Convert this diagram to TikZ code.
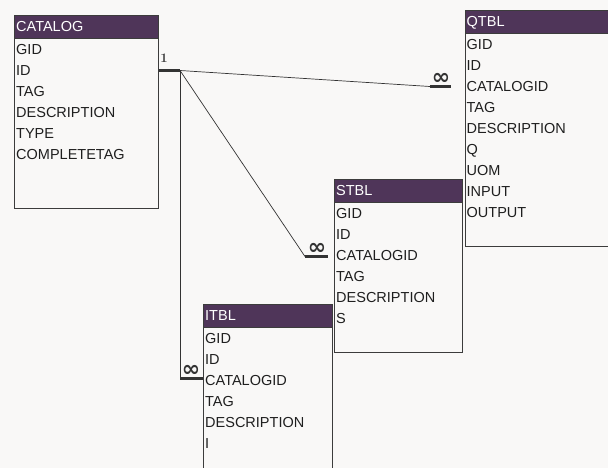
\documentclass[tikz,border=0pt]{standalone}
\usepackage{fontspec}
\newfontfamily\tblfont{Liberation Sans}
\newfontfamily\markfont{DejaVu Sans}
\usetikzlibrary{calc}

\definecolor{bgcol}{HTML}{F9F8F7}
\definecolor{headcol}{HTML}{4F3559}
\definecolor{framecol}{HTML}{3C3C3C}
\definecolor{linecol}{HTML}{333333}

\tikzset{
  tblbody/.style={draw=framecol, line width=1.2pt, fill=bgcol, anchor=north west, inner sep=0pt},
  tblhead/.style={draw=framecol, line width=1.2pt, fill=headcol, anchor=north west, inner sep=0pt,
    minimum height=23pt},
  tbltitle/.style={anchor=west, inner sep=0pt, text height=10.5pt, text depth=2.5pt, text=white,
    font=\tblfont\fontsize{14.5}{17}\selectfont},
  field/.style={anchor=west, inner sep=0pt, text height=10.5pt, text depth=2.5pt, text=black!88,
    font=\tblfont\fontsize{14.5}{17}\selectfont},
  link/.style={draw=linecol, line width=0.7pt},
  bar/.style={draw=linecol, line width=3pt},
  onemark/.style={inner sep=0pt, text=linecol, font=\bfseries\fontsize{13}{14}\selectfont},
  manymark/.style={inner sep=0pt, text=linecol, font=\markfont\bfseries\fontsize{22}{24}\selectfont}
}

% name, x, y, width, height, title, fields
\newcommand\erdtable[7]{%
  \node[tblbody, minimum width=#4pt, minimum height=#5pt] (#1) at (#2,#3) {};
  \node[tblhead, minimum width=#4pt] (#1-head) at (#2,#3) {};
  \node[tbltitle] (#1-title) at ($(#1-head.west)+(2,0)$) {#6};
  \foreach \f [count=\i] in {#7}
    \node[field] (#1-\i) at ($(#1-head.south west)+(2,{11.5+21*(\i-1)})$) {\f};
}

\begin{document}
\begin{tikzpicture}[x=1pt, y=-1pt]
  \fill[bgcol] (0,0) rectangle (608,468);
  \useasboundingbox (0,0) rectangle (608,468);
  \clip (0,0) rectangle (608,468);

  % tables
  \erdtable{catalog}{14}{15}{144}{193}{CATALOG}{GID,ID,TAG,DESCRIPTION,TYPE,COMPLETETAG}
  \erdtable{qtbl}{464.5}{10}{160}{236}{QTBL}{GID,ID,CATALOGID,TAG,DESCRIPTION,Q,UOM,INPUT,OUTPUT}
  \erdtable{stbl}{334}{179}{128}{173}{STBL}{GID,ID,CATALOGID,TAG,DESCRIPTION,S}
  \erdtable{itbl}{203}{304}{129}{200}{ITBL}{GID,ID,CATALOGID,TAG,DESCRIPTION,I}

  % relation ends
  \coordinate (cat-one) at (180,70.5);
  \coordinate (q-many) at (430,86.5);
  \coordinate (q-end) at (451,86.5);
  \coordinate (s-many) at (305,256.5);
  \coordinate (s-end) at (328,256.5);
  \coordinate (i-many) at (180,378);

  \draw[bar] (catalog.east |- cat-one) -- (cat-one);
  \draw[bar] (q-many) -- (q-end);
  \draw[bar] (s-many) -- (s-end);
  \draw[bar] (i-many) -- (itbl.west |- i-many);

  \draw[link] (cat-one) -- (q-many);
  \draw[link] (cat-one) -- (s-many);
  \draw[link] (cat-one) -- (i-many);

  % cardinalities
  \node[onemark] (one) at (164,58) {1};
  \node[manymark] (q-inf) at (441,79) {∞};
  \node[manymark] (s-inf) at (317,249) {∞};
  \node[manymark] (i-inf) at (191,371) {∞};
\end{tikzpicture}
\end{document}
